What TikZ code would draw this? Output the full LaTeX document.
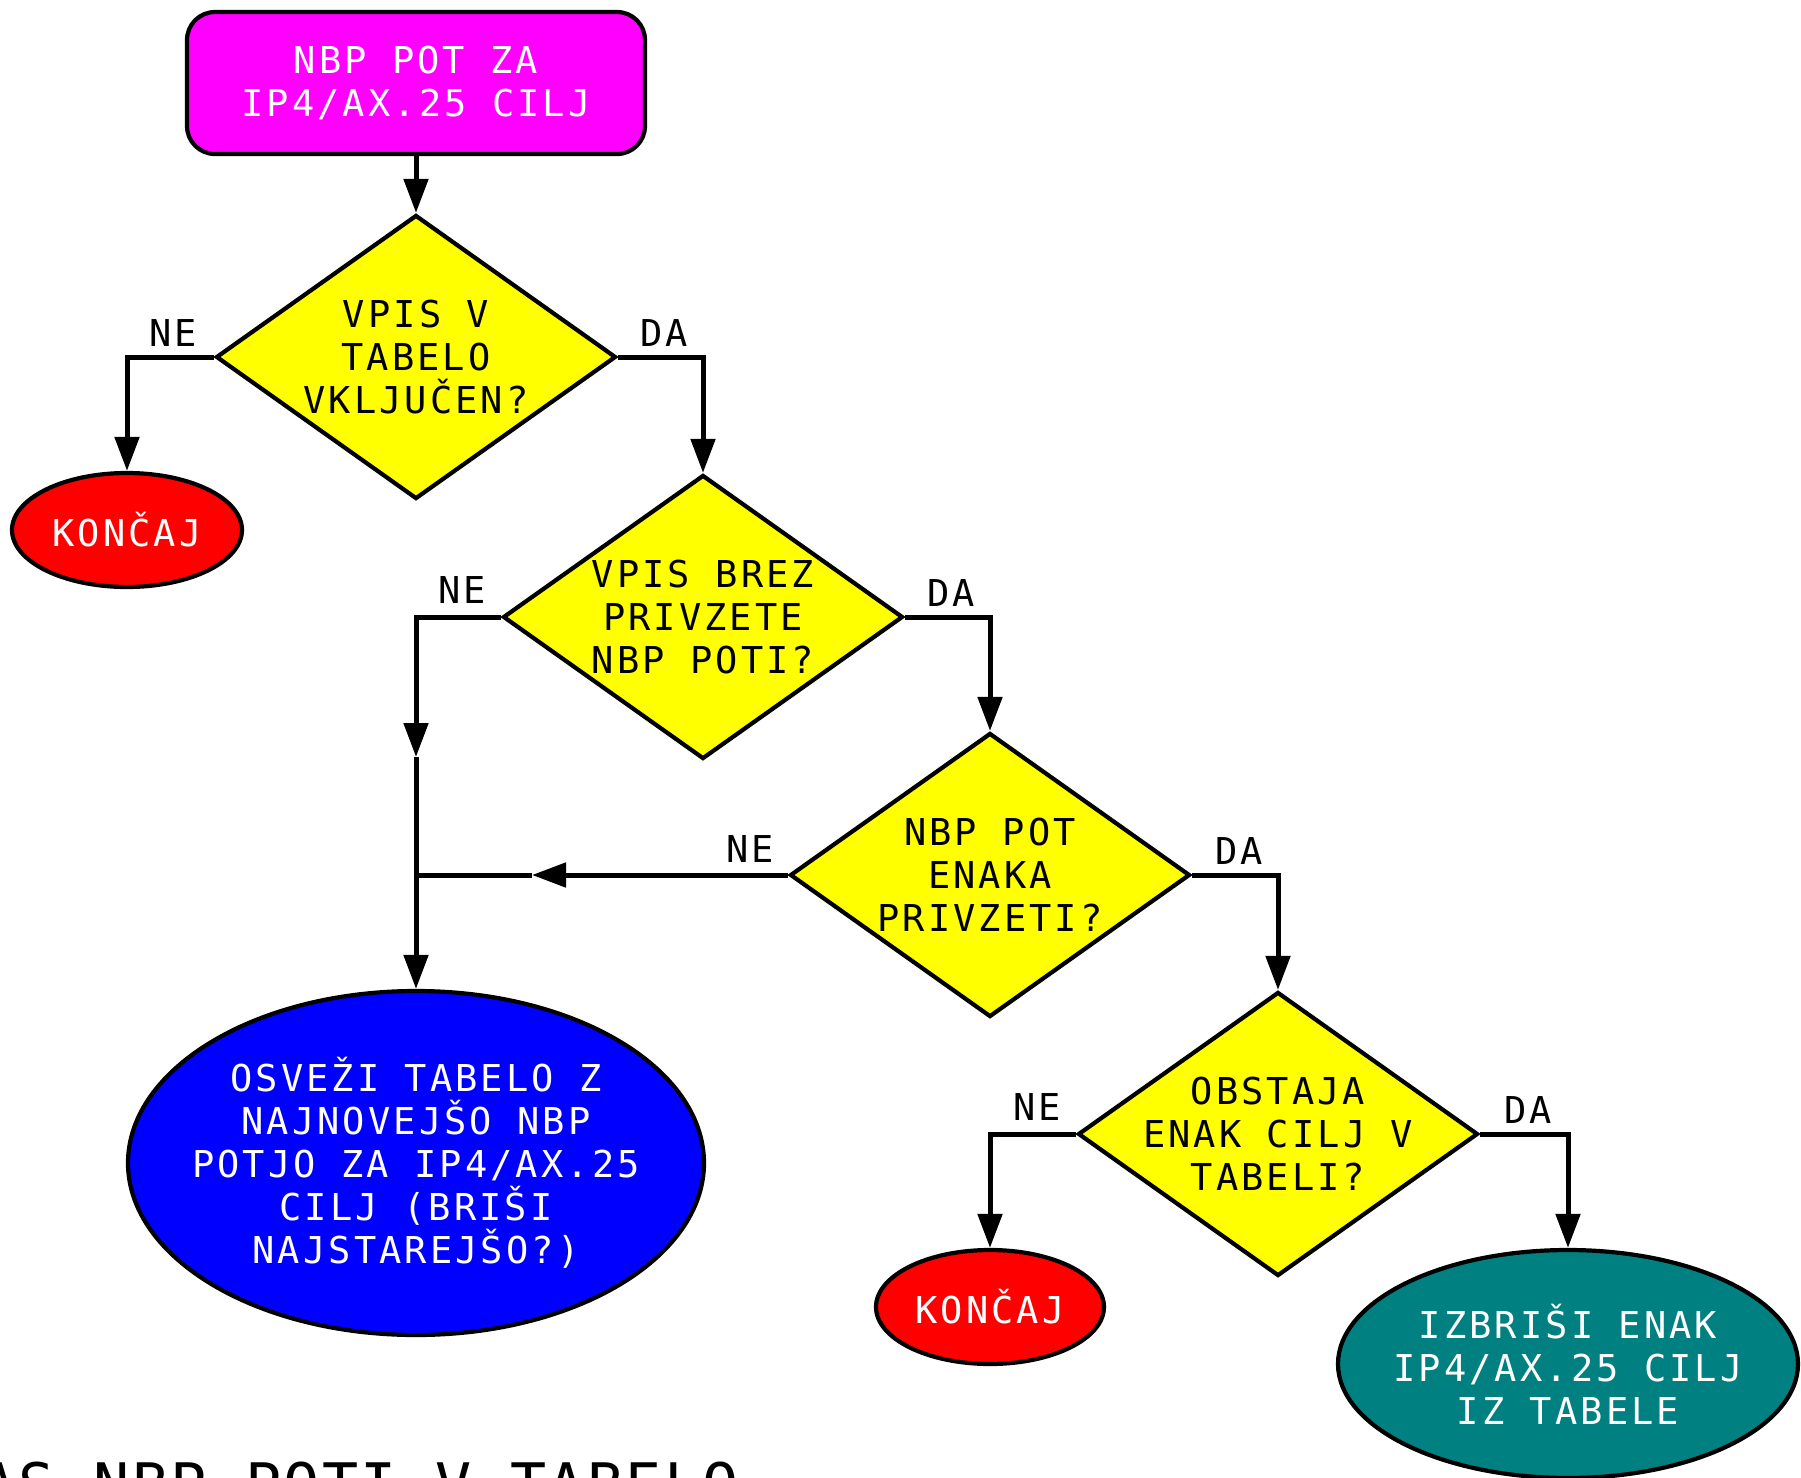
\documentclass[tikz,border=0pt]{standalone}
\usepackage{fontspec}
\newfontfamily\dmono[LetterSpace=8.4]{DejaVu Sans Mono}
\newfontfamily\dbig[LetterSpace=4]{DejaVu Sans Mono}
\usetikzlibrary{shapes.geometric,arrows.meta}
\definecolor{cmag}{RGB}{255,0,255}
\definecolor{cyel}{RGB}{255,255,0}
\definecolor{cred}{RGB}{255,0,0}
\definecolor{cblue}{RGB}{0,0,255}
\definecolor{cteal}{RGB}{0,128,128}
\tikzset{
  conn/.style={line width=2.5pt},
  arr/.style={line width=2.5pt,-{Triangle[length=17pt,width=12pt]}},
  outl/.style={draw,line width=2.1pt},
  dia/.style={outl,diamond,fill=cyel,minimum width=200pt,minimum height=142pt,inner sep=0pt,aspect=1.4},
  ell/.style={outl,ellipse,inner sep=0pt},
  txt/.style={font=\dmono\fontsize{18.5}{21.5}\selectfont,align=center,inner sep=0pt},
  wtxt/.style={txt,text=white},
  lbl/.style={txt},
}
\begin{document}
\begin{tikzpicture}[x=0.5pt,y=-0.5pt]
\useasboundingbox (0,0) rectangle (1801,1478);
\fill[white] (0,0) rectangle (1801,1478);
% start box
\node[outl,fill=cmag,rounded corners=14pt,minimum width=229pt,minimum height=71pt,inner sep=0pt] (start) at (416,83) {};
\node[wtxt] (startt) at (start.center) {NBP POT ZA\\IP4/AX.25 CILJ};
% diamonds
\node[dia] (d1) at (416,357) {};
\node[txt] (d1t) at (d1.center) {VPIS V\\TABELO\\VKLJUČEN?};
\node[dia] (d2) at (703,617) {};
\node[txt] (d2t) at (d2.center) {VPIS BREZ\\PRIVZETE\\NBP POTI?};
\node[dia] (d3) at (990,875) {};
\node[txt] (d3t) at (d3.center) {NBP POT\\ENAKA\\PRIVZETI?};
\node[dia] (d4) at (1278,1134) {};
\node[txt] (d4t) at (d4.center) {OBSTAJA\\ENAK CILJ V\\TABELI?};
% terminals
\node[ell,fill=cred,minimum width=115pt,minimum height=57pt] (k1) at (127,530) {};
\node[wtxt] (k1t) at (k1.center) {KONČAJ};
\node[ell,fill=cred,minimum width=114pt,minimum height=57pt] (k2) at (990,1307) {};
\node[wtxt] (k2t) at (k2.center) {KONČAJ};
\node[ell,fill=cblue,minimum width=288pt,minimum height=172pt] (upd) at (416,1163) {};
\node[wtxt] (updt) at (upd.center) {OSVEŽI TABELO Z\\NAJNOVEJŠO NBP\\POTJO ZA IP4/AX.25\\CILJ (BRIŠI\\NAJSTAREJŠO?)};
\node[ell,fill=cteal,minimum width=230pt,minimum height=114pt] (del) at (1568,1364) {};
\node[wtxt] (delt) at (del.center) {IZBRIŠI ENAK\\IP4/AX.25 CILJ\\IZ TABELE};
% helper coordinates
\coordinate (m1) at (416,757);
\coordinate (m2) at (532,875);
\coordinate (j1) at (416,875);
% connectors
\draw[arr] (start.south) -- (d1.north);
\draw[arr] (d1.west) -| (k1.north);
\draw[arr] (d1.east) -| (d2.north);
\draw[arr] (d2.west) -| (m1);
\draw[arr] (m1) -- (upd.north);
\draw[arr] (d2.east) -| (d3.north);
\draw[arr] (d3.west) -- (m2);
\draw[conn] (m2) -- (j1);
\draw[arr] (d3.east) -| (d4.north);
\draw[arr] (d4.west) -| (k2.north);
\draw[arr] (d4.east) -| (del.north);
% labels
\node[lbl] (l1n) at (173,333) {NE};
\node[lbl] (l1d) at (664,333) {DA};
\node[lbl] (l2n) at (462,590) {NE};
\node[lbl] (l2d) at (951,593) {DA};
\node[lbl] (l3n) at (750,849) {NE};
\node[lbl] (l3d) at (1239,851) {DA};
\node[lbl] (l4n) at (1037,1107) {NE};
\node[lbl] (l4d) at (1528,1110) {DA};
% cut-off title at bottom
\node[font=\dbig\fontsize{30}{36}\selectfont,anchor=base west,inner sep=0pt] (title) at (-20,1506) {AS NBP POTI V TABELO};
\end{tikzpicture}
\end{document}
